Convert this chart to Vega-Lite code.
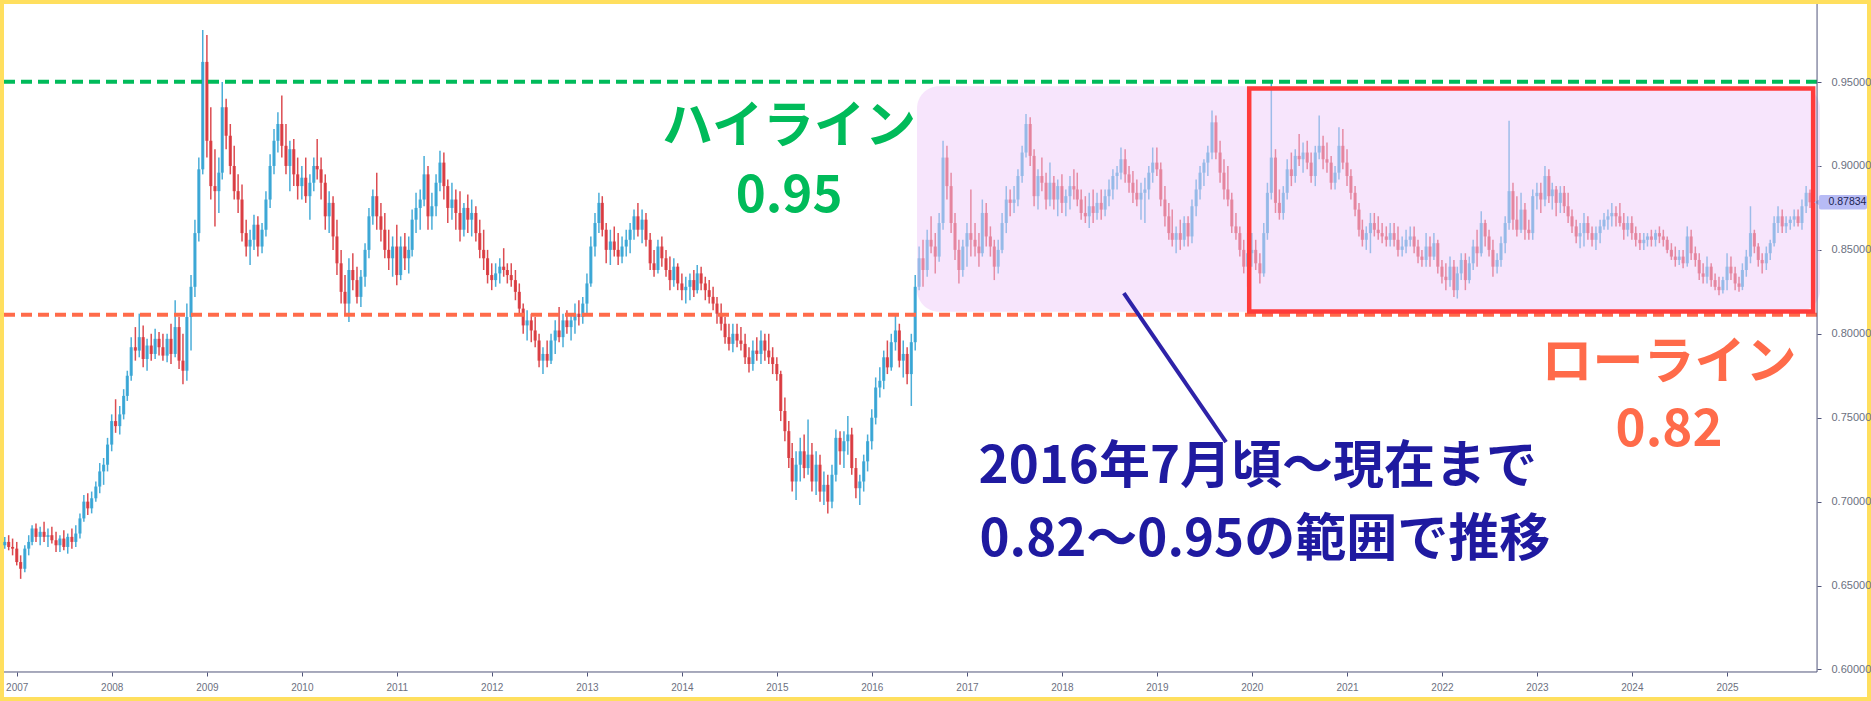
{
"$schema":"https://vega.github.io/schema/vega-lite/v6.json",
"width":1863,"height":693,"autosize":{"type":"none"},"padding":4,
"background":"#FFDF5E",
"config":{"view":{"stroke":null,"fill":"white"},"font":"Liberation Sans"},
"datasets":{
"candles":[
{"t":"2006-11-16","o":0.674,"h":0.679,"l":0.672,"c":0.676},
{"t":"2006-12-01","o":0.676,"h":0.680,"l":0.671,"c":0.673},
{"t":"2006-12-16","o":0.673,"h":0.678,"l":0.668,"c":0.672},
{"t":"2007-01-01","o":0.672,"h":0.676,"l":0.662,"c":0.664},
{"t":"2007-01-16","o":0.664,"h":0.668,"l":0.654,"c":0.660},
{"t":"2007-02-01","o":0.660,"h":0.674,"l":0.658,"c":0.672},
{"t":"2007-02-16","o":0.672,"h":0.680,"l":0.668,"c":0.676},
{"t":"2007-03-01","o":0.676,"h":0.686,"l":0.674,"c":0.684},
{"t":"2007-03-16","o":0.684,"h":0.687,"l":0.676,"c":0.679},
{"t":"2007-04-01","o":0.679,"h":0.685,"l":0.674,"c":0.682},
{"t":"2007-04-16","o":0.682,"h":0.688,"l":0.676,"c":0.679},
{"t":"2007-05-01","o":0.679,"h":0.684,"l":0.673,"c":0.680},
{"t":"2007-05-16","o":0.680,"h":0.685,"l":0.675,"c":0.677},
{"t":"2007-06-01","o":0.677,"h":0.682,"l":0.670,"c":0.674},
{"t":"2007-06-16","o":0.674,"h":0.680,"l":0.670,"c":0.678},
{"t":"2007-07-01","o":0.678,"h":0.683,"l":0.671,"c":0.673},
{"t":"2007-07-16","o":0.673,"h":0.681,"l":0.669,"c":0.679},
{"t":"2007-08-01","o":0.679,"h":0.684,"l":0.672,"c":0.676},
{"t":"2007-08-16","o":0.676,"h":0.686,"l":0.673,"c":0.681},
{"t":"2007-09-01","o":0.681,"h":0.693,"l":0.678,"c":0.690},
{"t":"2007-09-16","o":0.690,"h":0.704,"l":0.688,"c":0.700},
{"t":"2007-10-01","o":0.700,"h":0.705,"l":0.692,"c":0.696},
{"t":"2007-10-16","o":0.696,"h":0.706,"l":0.693,"c":0.702},
{"t":"2007-11-01","o":0.702,"h":0.712,"l":0.700,"c":0.709},
{"t":"2007-11-16","o":0.709,"h":0.723,"l":0.705,"c":0.718},
{"t":"2007-12-01","o":0.718,"h":0.726,"l":0.710,"c":0.722},
{"t":"2007-12-16","o":0.722,"h":0.738,"l":0.718,"c":0.734},
{"t":"2008-01-01","o":0.734,"h":0.752,"l":0.730,"c":0.748},
{"t":"2008-01-16","o":0.748,"h":0.761,"l":0.741,"c":0.745},
{"t":"2008-02-01","o":0.745,"h":0.757,"l":0.740,"c":0.752},
{"t":"2008-02-16","o":0.752,"h":0.767,"l":0.749,"c":0.763},
{"t":"2008-03-01","o":0.763,"h":0.778,"l":0.760,"c":0.775},
{"t":"2008-03-16","o":0.775,"h":0.798,"l":0.772,"c":0.792},
{"t":"2008-04-01","o":0.792,"h":0.804,"l":0.784,"c":0.790},
{"t":"2008-04-16","o":0.790,"h":0.812,"l":0.786,"c":0.798},
{"t":"2008-05-01","o":0.798,"h":0.805,"l":0.780,"c":0.785},
{"t":"2008-05-16","o":0.785,"h":0.797,"l":0.778,"c":0.793},
{"t":"2008-06-01","o":0.793,"h":0.800,"l":0.784,"c":0.788},
{"t":"2008-06-16","o":0.788,"h":0.803,"l":0.785,"c":0.797},
{"t":"2008-07-01","o":0.797,"h":0.801,"l":0.787,"c":0.792},
{"t":"2008-07-16","o":0.792,"h":0.800,"l":0.784,"c":0.787},
{"t":"2008-08-01","o":0.787,"h":0.800,"l":0.783,"c":0.797},
{"t":"2008-08-16","o":0.797,"h":0.806,"l":0.782,"c":0.788},
{"t":"2008-09-01","o":0.788,"h":0.820,"l":0.786,"c":0.804},
{"t":"2008-09-16","o":0.804,"h":0.810,"l":0.779,"c":0.784},
{"t":"2008-10-01","o":0.784,"h":0.800,"l":0.770,"c":0.778},
{"t":"2008-10-16","o":0.778,"h":0.818,"l":0.772,"c":0.810},
{"t":"2008-11-01","o":0.810,"h":0.835,"l":0.790,"c":0.828},
{"t":"2008-11-16","o":0.828,"h":0.868,"l":0.822,"c":0.860},
{"t":"2008-12-01","o":0.860,"h":0.905,"l":0.855,"c":0.898},
{"t":"2008-12-16","o":0.898,"h":0.981,"l":0.895,"c":0.962},
{"t":"2009-01-01","o":0.962,"h":0.978,"l":0.905,"c":0.915},
{"t":"2009-01-16","o":0.915,"h":0.935,"l":0.880,"c":0.888},
{"t":"2009-02-01","o":0.888,"h":0.910,"l":0.864,"c":0.885},
{"t":"2009-02-16","o":0.885,"h":0.905,"l":0.872,"c":0.896},
{"t":"2009-03-01","o":0.896,"h":0.950,"l":0.892,"c":0.935},
{"t":"2009-03-16","o":0.935,"h":0.940,"l":0.910,"c":0.918},
{"t":"2009-04-01","o":0.918,"h":0.925,"l":0.895,"c":0.900},
{"t":"2009-04-16","o":0.900,"h":0.912,"l":0.880,"c":0.885},
{"t":"2009-05-01","o":0.885,"h":0.895,"l":0.872,"c":0.880},
{"t":"2009-05-16","o":0.880,"h":0.889,"l":0.855,"c":0.860},
{"t":"2009-06-01","o":0.860,"h":0.868,"l":0.846,"c":0.852},
{"t":"2009-06-16","o":0.852,"h":0.862,"l":0.841,"c":0.856},
{"t":"2009-07-01","o":0.856,"h":0.871,"l":0.850,"c":0.865},
{"t":"2009-07-16","o":0.865,"h":0.870,"l":0.846,"c":0.852},
{"t":"2009-08-01","o":0.852,"h":0.866,"l":0.848,"c":0.862},
{"t":"2009-08-16","o":0.862,"h":0.885,"l":0.858,"c":0.880},
{"t":"2009-09-01","o":0.880,"h":0.907,"l":0.875,"c":0.900},
{"t":"2009-09-16","o":0.900,"h":0.922,"l":0.895,"c":0.915},
{"t":"2009-10-01","o":0.915,"h":0.932,"l":0.908,"c":0.925},
{"t":"2009-10-16","o":0.925,"h":0.942,"l":0.905,"c":0.912},
{"t":"2009-11-01","o":0.912,"h":0.925,"l":0.895,"c":0.900},
{"t":"2009-11-16","o":0.900,"h":0.915,"l":0.885,"c":0.910},
{"t":"2009-12-01","o":0.910,"h":0.916,"l":0.888,"c":0.895},
{"t":"2009-12-16","o":0.895,"h":0.905,"l":0.880,"c":0.888},
{"t":"2010-01-01","o":0.888,"h":0.900,"l":0.880,"c":0.893},
{"t":"2010-01-16","o":0.893,"h":0.905,"l":0.878,"c":0.882},
{"t":"2010-02-01","o":0.882,"h":0.895,"l":0.868,"c":0.890},
{"t":"2010-02-16","o":0.890,"h":0.905,"l":0.885,"c":0.900},
{"t":"2010-03-01","o":0.900,"h":0.916,"l":0.892,"c":0.898},
{"t":"2010-03-16","o":0.898,"h":0.905,"l":0.880,"c":0.890},
{"t":"2010-04-01","o":0.890,"h":0.895,"l":0.862,"c":0.870},
{"t":"2010-04-16","o":0.870,"h":0.885,"l":0.860,"c":0.878},
{"t":"2010-05-01","o":0.878,"h":0.882,"l":0.850,"c":0.858},
{"t":"2010-05-16","o":0.858,"h":0.868,"l":0.835,"c":0.842},
{"t":"2010-06-01","o":0.842,"h":0.850,"l":0.818,"c":0.825},
{"t":"2010-06-16","o":0.825,"h":0.835,"l":0.812,"c":0.818},
{"t":"2010-07-01","o":0.818,"h":0.845,"l":0.807,"c":0.838},
{"t":"2010-07-16","o":0.838,"h":0.848,"l":0.826,"c":0.832},
{"t":"2010-08-01","o":0.832,"h":0.840,"l":0.818,"c":0.822},
{"t":"2010-08-16","o":0.822,"h":0.838,"l":0.816,"c":0.834},
{"t":"2010-09-01","o":0.834,"h":0.854,"l":0.828,"c":0.850},
{"t":"2010-09-16","o":0.850,"h":0.875,"l":0.845,"c":0.870},
{"t":"2010-10-01","o":0.870,"h":0.886,"l":0.865,"c":0.882},
{"t":"2010-10-16","o":0.882,"h":0.896,"l":0.862,"c":0.870},
{"t":"2010-11-01","o":0.870,"h":0.878,"l":0.855,"c":0.862},
{"t":"2010-11-16","o":0.862,"h":0.872,"l":0.845,"c":0.850},
{"t":"2010-12-01","o":0.850,"h":0.862,"l":0.838,"c":0.845},
{"t":"2010-12-16","o":0.845,"h":0.858,"l":0.834,"c":0.852},
{"t":"2011-01-01","o":0.852,"h":0.865,"l":0.829,"c":0.835},
{"t":"2011-01-16","o":0.835,"h":0.858,"l":0.832,"c":0.852},
{"t":"2011-02-01","o":0.852,"h":0.860,"l":0.838,"c":0.845},
{"t":"2011-02-16","o":0.845,"h":0.858,"l":0.836,"c":0.850},
{"t":"2011-03-01","o":0.850,"h":0.874,"l":0.846,"c":0.868},
{"t":"2011-03-16","o":0.868,"h":0.884,"l":0.860,"c":0.875},
{"t":"2011-04-01","o":0.875,"h":0.886,"l":0.862,"c":0.880},
{"t":"2011-04-16","o":0.880,"h":0.906,"l":0.876,"c":0.895},
{"t":"2011-05-01","o":0.895,"h":0.900,"l":0.862,"c":0.870},
{"t":"2011-05-16","o":0.870,"h":0.884,"l":0.862,"c":0.876},
{"t":"2011-06-01","o":0.876,"h":0.895,"l":0.870,"c":0.890},
{"t":"2011-06-16","o":0.890,"h":0.909,"l":0.885,"c":0.902},
{"t":"2011-07-01","o":0.902,"h":0.908,"l":0.880,"c":0.888},
{"t":"2011-07-16","o":0.888,"h":0.892,"l":0.866,"c":0.875},
{"t":"2011-08-01","o":0.875,"h":0.890,"l":0.868,"c":0.880},
{"t":"2011-08-16","o":0.880,"h":0.886,"l":0.862,"c":0.872},
{"t":"2011-09-01","o":0.872,"h":0.885,"l":0.855,"c":0.862},
{"t":"2011-09-16","o":0.862,"h":0.878,"l":0.858,"c":0.875},
{"t":"2011-10-01","o":0.875,"h":0.883,"l":0.860,"c":0.868},
{"t":"2011-10-16","o":0.868,"h":0.880,"l":0.858,"c":0.872},
{"t":"2011-11-01","o":0.872,"h":0.876,"l":0.855,"c":0.860},
{"t":"2011-11-16","o":0.860,"h":0.868,"l":0.845,"c":0.850},
{"t":"2011-12-01","o":0.850,"h":0.862,"l":0.838,"c":0.845},
{"t":"2011-12-16","o":0.845,"h":0.850,"l":0.830,"c":0.835},
{"t":"2012-01-01","o":0.835,"h":0.842,"l":0.826,"c":0.832},
{"t":"2012-01-16","o":0.832,"h":0.842,"l":0.828,"c":0.836},
{"t":"2012-02-01","o":0.836,"h":0.845,"l":0.830,"c":0.840},
{"t":"2012-02-16","o":0.840,"h":0.851,"l":0.834,"c":0.838},
{"t":"2012-03-01","o":0.838,"h":0.842,"l":0.830,"c":0.835},
{"t":"2012-03-16","o":0.835,"h":0.842,"l":0.828,"c":0.832},
{"t":"2012-04-01","o":0.832,"h":0.838,"l":0.820,"c":0.825},
{"t":"2012-04-16","o":0.825,"h":0.830,"l":0.812,"c":0.815},
{"t":"2012-05-01","o":0.815,"h":0.818,"l":0.800,"c":0.805},
{"t":"2012-05-16","o":0.805,"h":0.814,"l":0.796,"c":0.808},
{"t":"2012-06-01","o":0.808,"h":0.812,"l":0.795,"c":0.802},
{"t":"2012-06-16","o":0.802,"h":0.810,"l":0.792,"c":0.796},
{"t":"2012-07-01","o":0.796,"h":0.800,"l":0.780,"c":0.784},
{"t":"2012-07-16","o":0.784,"h":0.792,"l":0.776,"c":0.788},
{"t":"2012-08-01","o":0.788,"h":0.796,"l":0.780,"c":0.784},
{"t":"2012-08-16","o":0.784,"h":0.800,"l":0.782,"c":0.796},
{"t":"2012-09-01","o":0.796,"h":0.808,"l":0.788,"c":0.802},
{"t":"2012-09-16","o":0.802,"h":0.816,"l":0.795,"c":0.798},
{"t":"2012-10-01","o":0.798,"h":0.812,"l":0.792,"c":0.808},
{"t":"2012-10-16","o":0.808,"h":0.814,"l":0.800,"c":0.804},
{"t":"2012-11-01","o":0.804,"h":0.812,"l":0.796,"c":0.808},
{"t":"2012-11-16","o":0.808,"h":0.818,"l":0.800,"c":0.812},
{"t":"2012-12-01","o":0.812,"h":0.820,"l":0.805,"c":0.810},
{"t":"2012-12-16","o":0.810,"h":0.822,"l":0.806,"c":0.818},
{"t":"2013-01-01","o":0.818,"h":0.836,"l":0.812,"c":0.830},
{"t":"2013-01-16","o":0.830,"h":0.858,"l":0.828,"c":0.852},
{"t":"2013-02-01","o":0.852,"h":0.872,"l":0.846,"c":0.866},
{"t":"2013-02-16","o":0.866,"h":0.884,"l":0.860,"c":0.878},
{"t":"2013-03-01","o":0.878,"h":0.882,"l":0.858,"c":0.862},
{"t":"2013-03-16","o":0.862,"h":0.866,"l":0.842,"c":0.850},
{"t":"2013-04-01","o":0.850,"h":0.862,"l":0.841,"c":0.855},
{"t":"2013-04-16","o":0.855,"h":0.864,"l":0.846,"c":0.850},
{"t":"2013-05-01","o":0.850,"h":0.860,"l":0.841,"c":0.846},
{"t":"2013-05-16","o":0.846,"h":0.858,"l":0.842,"c":0.852},
{"t":"2013-06-01","o":0.852,"h":0.862,"l":0.846,"c":0.856},
{"t":"2013-06-16","o":0.856,"h":0.866,"l":0.848,"c":0.862},
{"t":"2013-07-01","o":0.862,"h":0.874,"l":0.856,"c":0.870},
{"t":"2013-07-16","o":0.870,"h":0.878,"l":0.858,"c":0.862},
{"t":"2013-08-01","o":0.862,"h":0.874,"l":0.854,"c":0.868},
{"t":"2013-08-16","o":0.868,"h":0.872,"l":0.852,"c":0.856},
{"t":"2013-09-01","o":0.856,"h":0.860,"l":0.838,"c":0.842},
{"t":"2013-09-16","o":0.842,"h":0.850,"l":0.834,"c":0.838},
{"t":"2013-10-01","o":0.838,"h":0.856,"l":0.836,"c":0.852},
{"t":"2013-10-16","o":0.852,"h":0.858,"l":0.840,"c":0.845},
{"t":"2013-11-01","o":0.845,"h":0.850,"l":0.834,"c":0.838},
{"t":"2013-11-16","o":0.838,"h":0.846,"l":0.826,"c":0.832},
{"t":"2013-12-01","o":0.832,"h":0.845,"l":0.828,"c":0.840},
{"t":"2013-12-16","o":0.840,"h":0.842,"l":0.826,"c":0.830},
{"t":"2014-01-01","o":0.830,"h":0.836,"l":0.820,"c":0.826},
{"t":"2014-01-16","o":0.826,"h":0.834,"l":0.818,"c":0.828},
{"t":"2014-02-01","o":0.828,"h":0.836,"l":0.820,"c":0.832},
{"t":"2014-02-16","o":0.832,"h":0.838,"l":0.822,"c":0.826},
{"t":"2014-03-01","o":0.826,"h":0.841,"l":0.824,"c":0.836},
{"t":"2014-03-16","o":0.836,"h":0.840,"l":0.826,"c":0.830},
{"t":"2014-04-01","o":0.830,"h":0.834,"l":0.820,"c":0.826},
{"t":"2014-04-16","o":0.826,"h":0.832,"l":0.818,"c":0.822},
{"t":"2014-05-01","o":0.822,"h":0.828,"l":0.814,"c":0.818},
{"t":"2014-05-16","o":0.818,"h":0.822,"l":0.806,"c":0.812},
{"t":"2014-06-01","o":0.812,"h":0.818,"l":0.802,"c":0.806},
{"t":"2014-06-16","o":0.806,"h":0.810,"l":0.794,"c":0.798},
{"t":"2014-07-01","o":0.798,"h":0.806,"l":0.790,"c":0.794},
{"t":"2014-07-16","o":0.794,"h":0.806,"l":0.789,"c":0.800},
{"t":"2014-08-01","o":0.800,"h":0.806,"l":0.792,"c":0.796},
{"t":"2014-08-16","o":0.796,"h":0.804,"l":0.790,"c":0.794},
{"t":"2014-09-01","o":0.794,"h":0.800,"l":0.782,"c":0.786},
{"t":"2014-09-16","o":0.786,"h":0.792,"l":0.777,"c":0.782},
{"t":"2014-10-01","o":0.782,"h":0.796,"l":0.778,"c":0.790},
{"t":"2014-10-16","o":0.790,"h":0.798,"l":0.784,"c":0.788},
{"t":"2014-11-01","o":0.788,"h":0.802,"l":0.782,"c":0.796},
{"t":"2014-11-16","o":0.796,"h":0.800,"l":0.784,"c":0.790},
{"t":"2014-12-01","o":0.790,"h":0.800,"l":0.782,"c":0.786},
{"t":"2014-12-16","o":0.786,"h":0.792,"l":0.776,"c":0.782},
{"t":"2015-01-01","o":0.782,"h":0.786,"l":0.772,"c":0.776},
{"t":"2015-01-16","o":0.776,"h":0.778,"l":0.748,"c":0.754},
{"t":"2015-02-01","o":0.754,"h":0.762,"l":0.736,"c":0.742},
{"t":"2015-02-16","o":0.742,"h":0.748,"l":0.720,"c":0.726},
{"t":"2015-03-01","o":0.726,"h":0.735,"l":0.706,"c":0.712},
{"t":"2015-03-16","o":0.712,"h":0.730,"l":0.701,"c":0.722},
{"t":"2015-04-01","o":0.722,"h":0.738,"l":0.712,"c":0.730},
{"t":"2015-04-16","o":0.730,"h":0.740,"l":0.714,"c":0.720},
{"t":"2015-05-01","o":0.720,"h":0.749,"l":0.716,"c":0.728},
{"t":"2015-05-16","o":0.728,"h":0.735,"l":0.706,"c":0.712},
{"t":"2015-06-01","o":0.712,"h":0.730,"l":0.704,"c":0.722},
{"t":"2015-06-16","o":0.722,"h":0.728,"l":0.700,"c":0.706},
{"t":"2015-07-01","o":0.706,"h":0.718,"l":0.698,"c":0.710},
{"t":"2015-07-16","o":0.710,"h":0.716,"l":0.693,"c":0.700},
{"t":"2015-08-01","o":0.700,"h":0.722,"l":0.696,"c":0.716},
{"t":"2015-08-16","o":0.716,"h":0.743,"l":0.712,"c":0.738},
{"t":"2015-09-01","o":0.738,"h":0.742,"l":0.722,"c":0.730},
{"t":"2015-09-16","o":0.730,"h":0.742,"l":0.720,"c":0.736},
{"t":"2015-10-01","o":0.736,"h":0.751,"l":0.728,"c":0.740},
{"t":"2015-10-16","o":0.740,"h":0.744,"l":0.716,"c":0.720},
{"t":"2015-11-01","o":0.720,"h":0.726,"l":0.702,"c":0.708},
{"t":"2015-11-16","o":0.708,"h":0.716,"l":0.698,"c":0.712},
{"t":"2015-12-01","o":0.712,"h":0.728,"l":0.706,"c":0.724},
{"t":"2015-12-16","o":0.724,"h":0.740,"l":0.718,"c":0.736},
{"t":"2016-01-01","o":0.736,"h":0.755,"l":0.731,"c":0.750},
{"t":"2016-01-16","o":0.750,"h":0.774,"l":0.746,"c":0.768},
{"t":"2016-02-01","o":0.768,"h":0.780,"l":0.762,"c":0.772},
{"t":"2016-02-16","o":0.772,"h":0.790,"l":0.767,"c":0.786},
{"t":"2016-03-01","o":0.786,"h":0.796,"l":0.776,"c":0.780},
{"t":"2016-03-16","o":0.780,"h":0.800,"l":0.778,"c":0.795},
{"t":"2016-04-01","o":0.795,"h":0.812,"l":0.790,"c":0.802},
{"t":"2016-04-16","o":0.802,"h":0.806,"l":0.780,"c":0.784},
{"t":"2016-05-01","o":0.784,"h":0.796,"l":0.774,"c":0.788},
{"t":"2016-05-16","o":0.788,"h":0.792,"l":0.770,"c":0.776},
{"t":"2016-06-01","o":0.776,"h":0.800,"l":0.757,"c":0.795},
{"t":"2016-06-16","o":0.795,"h":0.835,"l":0.790,"c":0.828},
{"t":"2016-07-01","o":0.828,"h":0.852,"l":0.826,"c":0.845},
{"t":"2016-07-16","o":0.845,"h":0.856,"l":0.828,"c":0.838},
{"t":"2016-08-01","o":0.838,"h":0.862,"l":0.834,"c":0.856},
{"t":"2016-08-16","o":0.856,"h":0.870,"l":0.848,"c":0.852},
{"t":"2016-09-01","o":0.852,"h":0.860,"l":0.836,"c":0.846},
{"t":"2016-09-16","o":0.846,"h":0.872,"l":0.843,"c":0.866},
{"t":"2016-10-01","o":0.866,"h":0.915,"l":0.862,"c":0.905},
{"t":"2016-10-16","o":0.905,"h":0.912,"l":0.880,"c":0.888},
{"t":"2016-11-01","o":0.888,"h":0.896,"l":0.860,"c":0.866},
{"t":"2016-11-16","o":0.866,"h":0.872,"l":0.844,"c":0.850},
{"t":"2016-12-01","o":0.850,"h":0.856,"l":0.830,"c":0.838},
{"t":"2016-12-16","o":0.838,"h":0.856,"l":0.834,"c":0.852},
{"t":"2017-01-01","o":0.852,"h":0.866,"l":0.840,"c":0.860},
{"t":"2017-01-16","o":0.860,"h":0.886,"l":0.846,"c":0.856},
{"t":"2017-02-01","o":0.856,"h":0.866,"l":0.846,"c":0.852},
{"t":"2017-02-16","o":0.852,"h":0.860,"l":0.840,"c":0.848},
{"t":"2017-03-01","o":0.848,"h":0.880,"l":0.846,"c":0.872},
{"t":"2017-03-16","o":0.872,"h":0.878,"l":0.852,"c":0.858},
{"t":"2017-04-01","o":0.858,"h":0.864,"l":0.846,"c":0.852},
{"t":"2017-04-16","o":0.852,"h":0.856,"l":0.832,"c":0.840},
{"t":"2017-05-01","o":0.840,"h":0.856,"l":0.836,"c":0.850},
{"t":"2017-05-16","o":0.850,"h":0.872,"l":0.848,"c":0.866},
{"t":"2017-06-01","o":0.866,"h":0.888,"l":0.860,"c":0.880},
{"t":"2017-06-16","o":0.880,"h":0.886,"l":0.870,"c":0.878},
{"t":"2017-07-01","o":0.878,"h":0.888,"l":0.872,"c":0.880},
{"t":"2017-07-16","o":0.880,"h":0.898,"l":0.876,"c":0.894},
{"t":"2017-08-01","o":0.894,"h":0.912,"l":0.890,"c":0.908},
{"t":"2017-08-16","o":0.908,"h":0.931,"l":0.905,"c":0.925},
{"t":"2017-09-01","o":0.925,"h":0.929,"l":0.900,"c":0.906},
{"t":"2017-09-16","o":0.906,"h":0.910,"l":0.876,"c":0.882},
{"t":"2017-10-01","o":0.882,"h":0.898,"l":0.874,"c":0.894},
{"t":"2017-10-16","o":0.894,"h":0.905,"l":0.885,"c":0.890},
{"t":"2017-11-01","o":0.890,"h":0.896,"l":0.874,"c":0.880},
{"t":"2017-11-16","o":0.880,"h":0.902,"l":0.876,"c":0.890},
{"t":"2017-12-01","o":0.890,"h":0.894,"l":0.874,"c":0.880},
{"t":"2017-12-16","o":0.880,"h":0.892,"l":0.870,"c":0.888},
{"t":"2018-01-01","o":0.888,"h":0.895,"l":0.872,"c":0.878},
{"t":"2018-01-16","o":0.878,"h":0.886,"l":0.870,"c":0.882},
{"t":"2018-02-01","o":0.882,"h":0.894,"l":0.874,"c":0.888},
{"t":"2018-02-16","o":0.888,"h":0.898,"l":0.880,"c":0.886},
{"t":"2018-03-01","o":0.886,"h":0.896,"l":0.876,"c":0.880},
{"t":"2018-03-16","o":0.880,"h":0.886,"l":0.868,"c":0.872},
{"t":"2018-04-01","o":0.872,"h":0.882,"l":0.866,"c":0.870},
{"t":"2018-04-16","o":0.870,"h":0.884,"l":0.863,"c":0.876},
{"t":"2018-05-01","o":0.876,"h":0.886,"l":0.866,"c":0.872},
{"t":"2018-05-16","o":0.872,"h":0.884,"l":0.868,"c":0.878},
{"t":"2018-06-01","o":0.878,"h":0.886,"l":0.868,"c":0.874},
{"t":"2018-06-16","o":0.874,"h":0.886,"l":0.870,"c":0.882},
{"t":"2018-07-01","o":0.882,"h":0.892,"l":0.876,"c":0.886},
{"t":"2018-07-16","o":0.886,"h":0.898,"l":0.880,"c":0.894},
{"t":"2018-08-01","o":0.894,"h":0.900,"l":0.886,"c":0.896},
{"t":"2018-08-16","o":0.896,"h":0.911,"l":0.892,"c":0.904},
{"t":"2018-09-01","o":0.904,"h":0.910,"l":0.890,"c":0.895},
{"t":"2018-09-16","o":0.895,"h":0.900,"l":0.884,"c":0.890},
{"t":"2018-10-01","o":0.890,"h":0.897,"l":0.878,"c":0.884},
{"t":"2018-10-16","o":0.884,"h":0.892,"l":0.876,"c":0.880},
{"t":"2018-11-01","o":0.880,"h":0.890,"l":0.868,"c":0.884},
{"t":"2018-11-16","o":0.884,"h":0.893,"l":0.866,"c":0.886},
{"t":"2018-12-01","o":0.886,"h":0.900,"l":0.880,"c":0.896},
{"t":"2018-12-16","o":0.896,"h":0.911,"l":0.890,"c":0.902},
{"t":"2019-01-01","o":0.902,"h":0.911,"l":0.894,"c":0.898},
{"t":"2019-01-16","o":0.898,"h":0.902,"l":0.876,"c":0.880},
{"t":"2019-02-01","o":0.880,"h":0.888,"l":0.864,"c":0.870},
{"t":"2019-02-16","o":0.870,"h":0.878,"l":0.856,"c":0.860},
{"t":"2019-03-01","o":0.860,"h":0.874,"l":0.852,"c":0.856},
{"t":"2019-03-16","o":0.856,"h":0.864,"l":0.848,"c":0.860},
{"t":"2019-04-01","o":0.860,"h":0.868,"l":0.850,"c":0.856},
{"t":"2019-04-16","o":0.856,"h":0.870,"l":0.852,"c":0.866},
{"t":"2019-05-01","o":0.866,"h":0.870,"l":0.852,"c":0.858},
{"t":"2019-05-16","o":0.858,"h":0.880,"l":0.854,"c":0.876},
{"t":"2019-06-01","o":0.876,"h":0.892,"l":0.870,"c":0.886},
{"t":"2019-06-16","o":0.886,"h":0.900,"l":0.880,"c":0.896},
{"t":"2019-07-01","o":0.896,"h":0.904,"l":0.888,"c":0.902},
{"t":"2019-07-16","o":0.902,"h":0.912,"l":0.894,"c":0.908},
{"t":"2019-08-01","o":0.908,"h":0.933,"l":0.904,"c":0.926},
{"t":"2019-08-16","o":0.926,"h":0.930,"l":0.904,"c":0.908},
{"t":"2019-09-01","o":0.908,"h":0.915,"l":0.890,"c":0.896},
{"t":"2019-09-16","o":0.896,"h":0.904,"l":0.880,"c":0.886},
{"t":"2019-10-01","o":0.886,"h":0.900,"l":0.876,"c":0.880},
{"t":"2019-10-16","o":0.880,"h":0.884,"l":0.860,"c":0.864},
{"t":"2019-11-01","o":0.864,"h":0.872,"l":0.856,"c":0.860},
{"t":"2019-11-16","o":0.860,"h":0.864,"l":0.846,"c":0.850},
{"t":"2019-12-01","o":0.850,"h":0.856,"l":0.836,"c":0.840},
{"t":"2019-12-16","o":0.840,"h":0.860,"l":0.828,"c":0.848},
{"t":"2020-01-01","o":0.848,"h":0.860,"l":0.840,"c":0.850},
{"t":"2020-01-16","o":0.850,"h":0.856,"l":0.838,"c":0.842},
{"t":"2020-02-01","o":0.842,"h":0.848,"l":0.830,"c":0.836},
{"t":"2020-02-16","o":0.836,"h":0.866,"l":0.834,"c":0.860},
{"t":"2020-03-01","o":0.860,"h":0.890,"l":0.856,"c":0.884},
{"t":"2020-03-16","o":0.884,"h":0.950,"l":0.880,"c":0.905},
{"t":"2020-04-01","o":0.905,"h":0.910,"l":0.872,"c":0.878},
{"t":"2020-04-16","o":0.878,"h":0.886,"l":0.868,"c":0.872},
{"t":"2020-05-01","o":0.872,"h":0.888,"l":0.868,"c":0.884},
{"t":"2020-05-16","o":0.884,"h":0.904,"l":0.880,"c":0.898},
{"t":"2020-06-01","o":0.898,"h":0.908,"l":0.888,"c":0.894},
{"t":"2020-06-16","o":0.894,"h":0.910,"l":0.890,"c":0.906},
{"t":"2020-07-01","o":0.906,"h":0.919,"l":0.900,"c":0.904},
{"t":"2020-07-16","o":0.904,"h":0.914,"l":0.896,"c":0.908},
{"t":"2020-08-01","o":0.908,"h":0.915,"l":0.898,"c":0.902},
{"t":"2020-08-16","o":0.902,"h":0.908,"l":0.890,"c":0.894},
{"t":"2020-09-01","o":0.894,"h":0.912,"l":0.888,"c":0.908},
{"t":"2020-09-16","o":0.908,"h":0.930,"l":0.904,"c":0.912},
{"t":"2020-10-01","o":0.912,"h":0.918,"l":0.898,"c":0.904},
{"t":"2020-10-16","o":0.904,"h":0.914,"l":0.896,"c":0.902},
{"t":"2020-11-01","o":0.902,"h":0.906,"l":0.886,"c":0.890},
{"t":"2020-11-16","o":0.890,"h":0.900,"l":0.886,"c":0.896},
{"t":"2020-12-01","o":0.896,"h":0.923,"l":0.892,"c":0.912},
{"t":"2020-12-16","o":0.912,"h":0.922,"l":0.898,"c":0.902},
{"t":"2021-01-01","o":0.902,"h":0.910,"l":0.888,"c":0.894},
{"t":"2021-01-16","o":0.894,"h":0.898,"l":0.880,"c":0.884},
{"t":"2021-02-01","o":0.884,"h":0.888,"l":0.870,"c":0.874},
{"t":"2021-02-16","o":0.874,"h":0.878,"l":0.858,"c":0.862},
{"t":"2021-03-01","o":0.862,"h":0.868,"l":0.852,"c":0.856},
{"t":"2021-03-16","o":0.856,"h":0.864,"l":0.850,"c":0.860},
{"t":"2021-04-01","o":0.860,"h":0.872,"l":0.848,"c":0.866},
{"t":"2021-04-16","o":0.866,"h":0.872,"l":0.858,"c":0.862},
{"t":"2021-05-01","o":0.862,"h":0.870,"l":0.856,"c":0.860},
{"t":"2021-05-16","o":0.860,"h":0.866,"l":0.854,"c":0.858},
{"t":"2021-06-01","o":0.858,"h":0.864,"l":0.852,"c":0.856},
{"t":"2021-06-16","o":0.856,"h":0.866,"l":0.852,"c":0.860},
{"t":"2021-07-01","o":0.860,"h":0.866,"l":0.852,"c":0.856},
{"t":"2021-07-16","o":0.856,"h":0.864,"l":0.846,"c":0.850},
{"t":"2021-08-01","o":0.850,"h":0.858,"l":0.846,"c":0.852},
{"t":"2021-08-16","o":0.852,"h":0.862,"l":0.848,"c":0.856},
{"t":"2021-09-01","o":0.856,"h":0.864,"l":0.852,"c":0.858},
{"t":"2021-09-16","o":0.858,"h":0.864,"l":0.848,"c":0.852},
{"t":"2021-10-01","o":0.852,"h":0.856,"l":0.842,"c":0.846},
{"t":"2021-10-16","o":0.846,"h":0.850,"l":0.840,"c":0.844},
{"t":"2021-11-01","o":0.844,"h":0.860,"l":0.840,"c":0.852},
{"t":"2021-11-16","o":0.852,"h":0.858,"l":0.840,"c":0.846},
{"t":"2021-12-01","o":0.846,"h":0.860,"l":0.844,"c":0.854},
{"t":"2021-12-16","o":0.854,"h":0.856,"l":0.836,"c":0.840},
{"t":"2022-01-01","o":0.840,"h":0.844,"l":0.830,"c":0.834},
{"t":"2022-01-16","o":0.834,"h":0.842,"l":0.826,"c":0.832},
{"t":"2022-02-01","o":0.832,"h":0.846,"l":0.828,"c":0.840},
{"t":"2022-02-16","o":0.840,"h":0.844,"l":0.822,"c":0.826},
{"t":"2022-03-01","o":0.826,"h":0.840,"l":0.821,"c":0.836},
{"t":"2022-03-16","o":0.836,"h":0.848,"l":0.832,"c":0.844},
{"t":"2022-04-01","o":0.844,"h":0.848,"l":0.826,"c":0.832},
{"t":"2022-04-16","o":0.832,"h":0.846,"l":0.830,"c":0.842},
{"t":"2022-05-01","o":0.842,"h":0.856,"l":0.838,"c":0.852},
{"t":"2022-05-16","o":0.852,"h":0.862,"l":0.840,"c":0.848},
{"t":"2022-06-01","o":0.848,"h":0.873,"l":0.846,"c":0.866},
{"t":"2022-06-16","o":0.866,"h":0.868,"l":0.852,"c":0.858},
{"t":"2022-07-01","o":0.858,"h":0.862,"l":0.846,"c":0.850},
{"t":"2022-07-16","o":0.850,"h":0.856,"l":0.834,"c":0.840},
{"t":"2022-08-01","o":0.840,"h":0.848,"l":0.836,"c":0.844},
{"t":"2022-08-16","o":0.844,"h":0.858,"l":0.840,"c":0.854},
{"t":"2022-09-01","o":0.854,"h":0.870,"l":0.848,"c":0.866},
{"t":"2022-09-16","o":0.866,"h":0.927,"l":0.862,"c":0.885},
{"t":"2022-10-01","o":0.885,"h":0.890,"l":0.862,"c":0.868},
{"t":"2022-10-16","o":0.868,"h":0.882,"l":0.858,"c":0.862},
{"t":"2022-11-01","o":0.862,"h":0.884,"l":0.860,"c":0.874},
{"t":"2022-11-16","o":0.874,"h":0.878,"l":0.856,"c":0.862},
{"t":"2022-12-01","o":0.862,"h":0.868,"l":0.856,"c":0.860},
{"t":"2022-12-16","o":0.860,"h":0.886,"l":0.856,"c":0.882},
{"t":"2023-01-01","o":0.882,"h":0.890,"l":0.874,"c":0.884},
{"t":"2023-01-16","o":0.884,"h":0.890,"l":0.872,"c":0.880},
{"t":"2023-02-01","o":0.880,"h":0.900,"l":0.876,"c":0.894},
{"t":"2023-02-16","o":0.894,"h":0.898,"l":0.878,"c":0.882},
{"t":"2023-03-01","o":0.882,"h":0.890,"l":0.874,"c":0.886},
{"t":"2023-03-16","o":0.886,"h":0.888,"l":0.870,"c":0.878},
{"t":"2023-04-01","o":0.878,"h":0.888,"l":0.872,"c":0.884},
{"t":"2023-04-16","o":0.884,"h":0.888,"l":0.872,"c":0.876},
{"t":"2023-05-01","o":0.876,"h":0.884,"l":0.866,"c":0.870},
{"t":"2023-05-16","o":0.870,"h":0.874,"l":0.860,"c":0.864},
{"t":"2023-06-01","o":0.864,"h":0.868,"l":0.854,"c":0.858},
{"t":"2023-06-16","o":0.858,"h":0.866,"l":0.851,"c":0.860},
{"t":"2023-07-01","o":0.860,"h":0.872,"l":0.852,"c":0.866},
{"t":"2023-07-16","o":0.866,"h":0.870,"l":0.856,"c":0.860},
{"t":"2023-08-01","o":0.860,"h":0.864,"l":0.852,"c":0.856},
{"t":"2023-08-16","o":0.856,"h":0.864,"l":0.850,"c":0.860},
{"t":"2023-09-01","o":0.860,"h":0.868,"l":0.854,"c":0.864},
{"t":"2023-09-16","o":0.864,"h":0.872,"l":0.862,"c":0.868},
{"t":"2023-10-01","o":0.868,"h":0.874,"l":0.862,"c":0.870},
{"t":"2023-10-16","o":0.870,"h":0.878,"l":0.864,"c":0.872},
{"t":"2023-11-01","o":0.872,"h":0.876,"l":0.864,"c":0.870},
{"t":"2023-11-16","o":0.870,"h":0.878,"l":0.864,"c":0.866},
{"t":"2023-12-01","o":0.866,"h":0.872,"l":0.856,"c":0.862},
{"t":"2023-12-16","o":0.862,"h":0.870,"l":0.858,"c":0.866},
{"t":"2024-01-01","o":0.866,"h":0.870,"l":0.856,"c":0.860},
{"t":"2024-01-16","o":0.860,"h":0.864,"l":0.852,"c":0.856},
{"t":"2024-02-01","o":0.856,"h":0.860,"l":0.850,"c":0.854},
{"t":"2024-02-16","o":0.854,"h":0.860,"l":0.850,"c":0.856},
{"t":"2024-03-01","o":0.856,"h":0.860,"l":0.852,"c":0.858},
{"t":"2024-03-16","o":0.858,"h":0.862,"l":0.852,"c":0.856},
{"t":"2024-04-01","o":0.856,"h":0.862,"l":0.852,"c":0.860},
{"t":"2024-04-16","o":0.860,"h":0.864,"l":0.854,"c":0.858},
{"t":"2024-05-01","o":0.858,"h":0.862,"l":0.852,"c":0.856},
{"t":"2024-05-16","o":0.856,"h":0.858,"l":0.848,"c":0.850},
{"t":"2024-06-01","o":0.850,"h":0.854,"l":0.844,"c":0.846},
{"t":"2024-06-16","o":0.846,"h":0.852,"l":0.840,"c":0.844},
{"t":"2024-07-01","o":0.844,"h":0.850,"l":0.841,"c":0.846},
{"t":"2024-07-16","o":0.846,"h":0.850,"l":0.839,"c":0.842},
{"t":"2024-08-01","o":0.842,"h":0.864,"l":0.840,"c":0.858},
{"t":"2024-08-16","o":0.858,"h":0.862,"l":0.844,"c":0.848},
{"t":"2024-09-01","o":0.848,"h":0.852,"l":0.840,"c":0.844},
{"t":"2024-09-16","o":0.844,"h":0.848,"l":0.832,"c":0.836},
{"t":"2024-10-01","o":0.836,"h":0.842,"l":0.830,"c":0.834},
{"t":"2024-10-16","o":0.834,"h":0.846,"l":0.830,"c":0.840},
{"t":"2024-11-01","o":0.840,"h":0.842,"l":0.828,"c":0.832},
{"t":"2024-11-16","o":0.832,"h":0.836,"l":0.826,"c":0.828},
{"t":"2024-12-01","o":0.828,"h":0.834,"l":0.823,"c":0.826},
{"t":"2024-12-16","o":0.826,"h":0.834,"l":0.824,"c":0.832},
{"t":"2025-01-01","o":0.832,"h":0.848,"l":0.826,"c":0.840},
{"t":"2025-01-16","o":0.840,"h":0.846,"l":0.832,"c":0.836},
{"t":"2025-02-01","o":0.836,"h":0.840,"l":0.826,"c":0.830},
{"t":"2025-02-16","o":0.830,"h":0.834,"l":0.825,"c":0.828},
{"t":"2025-03-01","o":0.828,"h":0.842,"l":0.826,"c":0.838},
{"t":"2025-03-16","o":0.838,"h":0.850,"l":0.834,"c":0.846},
{"t":"2025-04-01","o":0.846,"h":0.876,"l":0.842,"c":0.860},
{"t":"2025-04-16","o":0.860,"h":0.862,"l":0.848,"c":0.852},
{"t":"2025-05-01","o":0.852,"h":0.854,"l":0.840,"c":0.844},
{"t":"2025-05-16","o":0.844,"h":0.848,"l":0.836,"c":0.842},
{"t":"2025-06-01","o":0.842,"h":0.852,"l":0.838,"c":0.848},
{"t":"2025-06-16","o":0.848,"h":0.856,"l":0.844,"c":0.854},
{"t":"2025-07-01","o":0.854,"h":0.870,"l":0.852,"c":0.866},
{"t":"2025-07-16","o":0.866,"h":0.876,"l":0.860,"c":0.870},
{"t":"2025-08-01","o":0.870,"h":0.874,"l":0.860,"c":0.864},
{"t":"2025-08-16","o":0.864,"h":0.870,"l":0.860,"c":0.866},
{"t":"2025-09-01","o":0.866,"h":0.870,"l":0.862,"c":0.868},
{"t":"2025-09-16","o":0.868,"h":0.874,"l":0.864,"c":0.870},
{"t":"2025-10-01","o":0.870,"h":0.874,"l":0.864,"c":0.866},
{"t":"2025-10-16","o":0.866,"h":0.880,"l":0.862,"c":0.876},
{"t":"2025-11-01","o":0.876,"h":0.888,"l":0.872,"c":0.884},
{"t":"2025-11-16","o":0.884,"h":0.886,"l":0.875,"c":0.87834}
],
"pink":[{"t":"2016-06-23","t2":"2025-12-24","p":0.8132,"p2":0.9475}],
"box":[{"t":"2019-12-22","t2":"2025-11-28","p":0.8133,"p2":0.9462}],
"levels":[{"g":"high","p":0.9502,"t":"2006-11-13","t2":"2025-12-13"},{"g":"low","p":0.8114,"t":"2006-11-13","t2":"2025-12-13"}],
"notes":[
{"t":"2015-02-17","p":0.9226,"s":"ハイライン","g":"high"},
{"t":"2015-02-17","p":0.8815,"s":"0.95","g":"high"},
{"t":"2024-05-23","p":0.782,"s":"ローライン","g":"low"},
{"t":"2024-05-23","p":0.7421,"s":"0.82","g":"low"},
{"t":"2020-01-24","p":0.720,"s":"2016年7月頃～現在まで","g":"note"},
{"t":"2020-02-20","p":0.6766,"s":"0.82～0.95の範囲で推移","g":"note"}
],
"link":[{"t":"2018-08-27","p":0.8243,"t2":"2019-09-24","p2":0.7355}],
"tag":[{"t":"2025-12-20","t2":"2026-06-23","p":0.8740,"p2":0.8827,"v":0.87834,"tp":"2025-12-16","tt":"2026-01-26","s":"0.87834"}],
"frame":[{"t":"2006-11-13","t2":"2025-12-13","p":0.5985,"p2":0.5985},{"t":"2025-12-13","t2":"2025-12-13","p":0.5985,"p2":0.9965}]
},
"layer":[
{"data":{"name":"candles"},"mark":{"type":"rule","strokeWidth":1.5,"opacity":0.9},
 "encoding":{
  "x":{"field":"t","type":"temporal","scale":{"type":"utc","domain":[{"year":2006,"month":11,"date":13,"utc":true},{"year":2026,"month":6,"date":23,"utc":true}]},
   "axis":{"orient":"bottom","offset":-25,"title":null,"domain":false,"grid":false,"format":"%Y","labelFlush":false,"values":[{"year":2007,"utc":true},{"year":2008,"utc":true},{"year":2009,"utc":true},{"year":2010,"utc":true},{"year":2011,"utc":true},{"year":2012,"utc":true},{"year":2013,"utc":true},{"year":2014,"utc":true},{"year":2015,"utc":true},{"year":2016,"utc":true},{"year":2017,"utc":true},{"year":2018,"utc":true},{"year":2019,"utc":true},{"year":2020,"utc":true},{"year":2021,"utc":true},{"year":2022,"utc":true},{"year":2023,"utc":true},{"year":2024,"utc":true},{"year":2025,"utc":true}],
   "tickSize":4,"tickColor":"#50557a","labelPadding":6,"labelFontSize":10,"labelColor":"#6b7080","labelFont":"Liberation Sans"}},
  "y":{"field":"l","type":"quantitative","scale":{"domain":[0.5836,0.9965],"zero":false,"nice":false},
   "axis":{"orient":"right","offset":-50,"title":null,"domain":false,"grid":false,"format":".5f","values":[0.6,0.65,0.7,0.75,0.8,0.85,0.9,0.95],
   "tickSize":4,"tickColor":"#50557a","labelPadding":10,"labelFontSize":11,"labelColor":"#6b7080","labelFont":"Liberation Sans"}},
  "y2":{"field":"h"},
  "color":{"condition":{"test":"datum.c >= datum.o","value":"#36A4D4"},"value":"#D8383E"}}},
{"data":{"name":"candles"},"mark":{"type":"rule","strokeWidth":3.1,"opacity":0.9},
 "encoding":{"x":{"field":"t","type":"temporal"},"y":{"field":"o","type":"quantitative"},"y2":{"field":"c"},
  "color":{"condition":{"test":"datum.c >= datum.o","value":"#36A4D4"},"value":"#D8383E"}}},
{"data":{"name":"pink"},"mark":{"type":"rect","fill":"#EFCBF9","opacity":0.5,"cornerRadius":22},
 "encoding":{"x":{"field":"t","type":"temporal"},"x2":{"field":"t2"},"y":{"field":"p","type":"quantitative"},"y2":{"field":"p2"}}},
{"data":{"name":"levels"},"mark":{"type":"rule","strokeWidth":4,"strokeDash":[11,6]},
 "encoding":{"x":{"field":"t","type":"temporal"},"x2":{"field":"t2"},"y":{"field":"p","type":"quantitative"},
  "color":{"field":"g","type":"nominal","scale":{"domain":["high","low","note"],"range":["#00BB5A","#FF6B4A","#1F1AA0"]},"legend":null}}},
{"data":{"name":"box"},"mark":{"type":"rect","fill":"transparent","stroke":"#FF3B3B","strokeWidth":4.5},
 "encoding":{"x":{"field":"t","type":"temporal"},"x2":{"field":"t2"},"y":{"field":"p","type":"quantitative"},"y2":{"field":"p2"}}},
{"data":{"name":"link"},"mark":{"type":"rule","strokeWidth":4,"color":"#2E22A8"},
 "encoding":{"x":{"field":"t","type":"temporal"},"x2":{"field":"t2"},"y":{"field":"p","type":"quantitative"},"y2":{"field":"p2"}}},
{"data":{"name":"notes"},"mark":{"type":"text","font":"Noto Sans CJK JP","fontWeight":"bold","fontSize":51,"align":"center","baseline":"middle"},
 "encoding":{"x":{"field":"t","type":"temporal"},"y":{"field":"p","type":"quantitative"},"text":{"field":"s"},
  "color":{"field":"g","type":"nominal","scale":{"domain":["high","low","note"],"range":["#00BB5A","#FF6B4A","#1F1AA0"]},"legend":null}}},
{"data":{"name":"tag"},"mark":{"type":"rect","fill":"#B7BBF5","cornerRadius":2},
 "encoding":{"x":{"field":"t","type":"temporal"},"x2":{"field":"t2"},"y":{"field":"p","type":"quantitative"},"y2":{"field":"p2"}}},
{"data":{"name":"tag"},"mark":{"type":"point","shape":"triangle-left","filled":true,"fill":"#B7BBF5","opacity":1,"size":70},
 "encoding":{"x":{"field":"tp","type":"temporal"},"y":{"field":"v","type":"quantitative"}}},
{"data":{"name":"tag"},"mark":{"type":"text","fontSize":10.5,"font":"Liberation Sans","color":"#1c2350","align":"left","baseline":"middle"},
 "encoding":{"x":{"field":"tt","type":"temporal"},"y":{"field":"v","type":"quantitative"},"text":{"field":"s"}}},
{"data":{"name":"frame"},"mark":{"type":"rule","strokeWidth":1,"color":"#50557a"},
 "encoding":{"x":{"field":"t","type":"temporal"},"x2":{"field":"t2"},"y":{"field":"p","type":"quantitative"},"y2":{"field":"p2"}}}
]
}
